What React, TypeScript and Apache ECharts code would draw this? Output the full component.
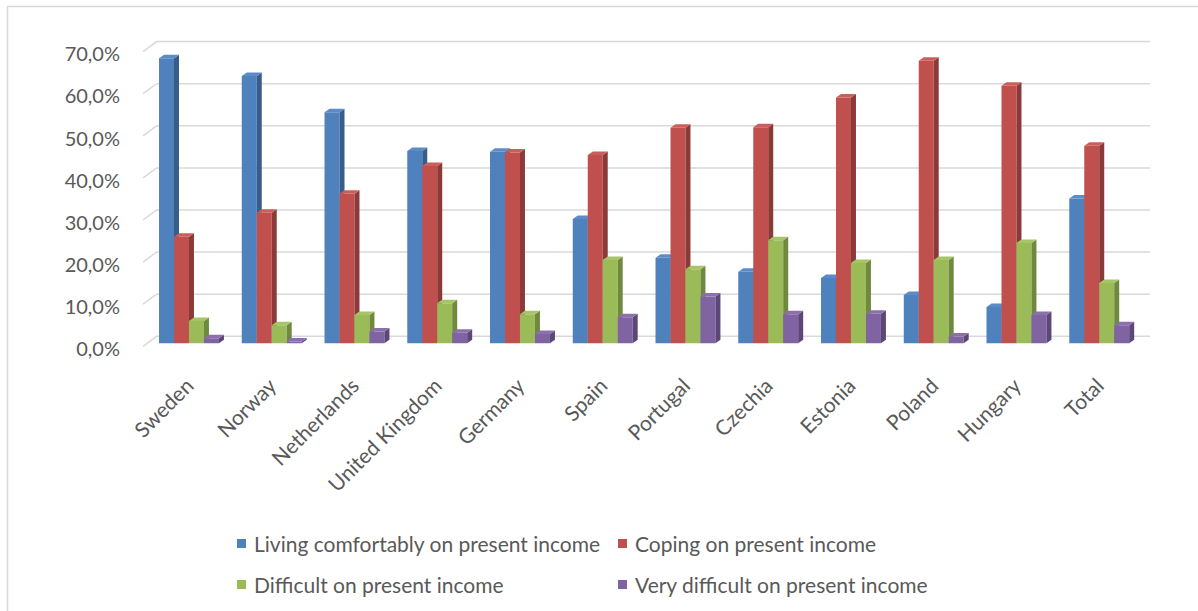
import React, { useEffect, useRef } from "react";
import * as echarts from "echarts";

const categories = ["Sweden", "Norway", "Netherlands", "United Kingdom", "Germany", "Spain", "Portugal", "Czechia", "Estonia", "Poland", "Hungary", "Total"];
const seriesNames = [
  "Living comfortably on present income",
  "Coping on present income",
  "Difficult on present income",
  "Very difficult on present income",
];
const livingComfortably = [67.7, 63.5, 54.9, 45.7, 45.5, 29.5, 20.3, 17.0, 15.5, 11.5, 8.6, 34.4];
const coping = [25.3, 31.0, 35.5, 42.1, 45.3, 44.7, 51.2, 51.3, 58.4, 67.1, 61.2, 46.9];
const difficult = [5.3, 4.3, 6.7, 9.5, 6.9, 19.8, 17.6, 24.5, 19.1, 19.8, 23.8, 14.3];
const veryDifficult = [1.2, 0.4, 2.8, 2.5, 2.2, 6.2, 11.1, 6.9, 7.0, 1.6, 6.7, 4.3];
const yTicks = [0, 10, 20, 30, 40, 50, 60, 70];
const yTickLabels = ["0,0%", "10,0%", "20,0%", "30,0%", "40,0%", "50,0%", "60,0%", "70,0%"];

const frontColors = ["#4F81BD", "#C0504D", "#9BBB59", "#8064A2"];
const sideColors = ["#385D8A", "#8C3A38", "#6F8A3F", "#5C4777"];
const topColors = ["#5B8CC8", "#CB5E5B", "#A6C567", "#8B70AD"];

const FONT = "Lato, 'Open Sans', sans-serif";
const GRAY = "#595959";

export default function App() {
  const ref = useRef<HTMLDivElement>(null);
  useEffect(() => {
    if (!ref.current) return;
    const chart = echarts.init(ref.current, undefined, { renderer: "svg" });
    const allValues = [livingComfortably, coping, difficult, veryDifficult];
    const DX = 5;
    const DY = -3.5;

    const barSeries = allValues.map((vals, si) => ({
      type: "custom",
      name: seriesNames[si],
      xAxisIndex: 0,
      yAxisIndex: 0,
      z: 3,
      itemStyle: { color: frontColors[si] },
      data: vals.map((v, i) => [i, v]),
      encode: { x: 0, y: 1 },
      renderItem: (params: any, api: any) => {
        const ci = api.value(0);
        const v = api.value(1);
        const top = api.coord([ci, v]);
        const base = api.coord([ci, 0])[1];
        const band = api.size([1, 0])[0];
        const w = band * 0.181;
        const x0 = top[0] - 2 * w + si * w;
        const yT = top[1];
        return {
          type: "group",
          children: [
            {
              type: "rect",
              shape: { x: x0, y: yT, width: w, height: base - yT },
              style: { fill: frontColors[si] },
            },
            {
              type: "polygon",
              shape: {
                points: [
                  [x0 + w, yT],
                  [x0 + w + DX, yT + DY],
                  [x0 + w + DX, base + DY],
                  [x0 + w, base],
                ],
              },
              style: { fill: sideColors[si] },
            },
            {
              type: "polygon",
              shape: {
                points: [
                  [x0, yT],
                  [x0 + DX, yT + DY],
                  [x0 + w + DX, yT + DY],
                  [x0 + w, yT],
                ],
              },
              style: { fill: topColors[si] },
            },
          ],
        };
      },
    }));

    const gridSeries = {
      type: "custom",
      xAxisIndex: 0,
      yAxisIndex: 0,
      z: 1,
      silent: true,
      data: yTicks.map((t) => [0, t]),
      encode: { x: 0, y: 1 },
      renderItem: (params: any, api: any) => {
        const cs = params.coordSys;
        const y = api.coord([0, api.value(1)])[1] - 7;
        return {
          type: "polyline",
          shape: {
            points: [
              [cs.x - 4.5, y + 10],
              [cs.x + 9, y],
              [cs.x + cs.width + 9.5, y],
            ],
          },
          style: { stroke: "#D9D9D9", lineWidth: 1.5, fill: "none" },
        };
      },
    };

    const legendBase = {
      orient: "vertical",
      top: 533,
      padding: 0,
      itemWidth: 9,
      itemHeight: 9,
      itemGap: 20,
      icon: "rect",
      selectedMode: false,
      textStyle: { fontFamily: FONT, fontSize: 21, color: GRAY, padding: [0, 0, 0, 3] },
    };

    chart.setOption({
      animation: false,
      backgroundColor: "#ffffff",
      grid: [
        { left: 147.6, top: 48.6, width: 993, height: 294.7 },
        { left: 128, top: 53.3, width: 10, height: 294.7 },
      ],
      xAxis: [
        {
          type: "category",
          gridIndex: 0,
          data: categories,
          axisLine: { show: false },
          axisTick: { show: false },
          axisLabel: {
            rotate: 45,
            margin: 38,
            interval: 0,
            fontFamily: FONT,
            fontSize: 21,
            color: GRAY,
          },
        },
        { type: "category", gridIndex: 1, data: ["a"], show: false },
      ],
      yAxis: [
        {
          type: "value",
          gridIndex: 0,
          min: 0,
          max: 70,
          interval: 10,
          axisLabel: { show: false },
          axisLine: { show: false },
          axisTick: { show: false },
          splitLine: { show: false },
        },
        {
          type: "value",
          gridIndex: 1,
          min: 0,
          max: 70,
          interval: 10,
          axisLine: { show: false },
          axisTick: { show: false },
          splitLine: { show: false },
          axisLabel: {
            margin: 8,
            fontFamily: FONT,
            fontSize: 20,
            color: GRAY,
            formatter: (v: number) => yTickLabels[yTicks.indexOf(v)] ?? "",
          },
        },
      ],
      legend: [
        { ...legendBase, data: [seriesNames[0], seriesNames[2]], left: 237 },
        { ...legendBase, data: [seriesNames[1], seriesNames[3]], left: 618 },
      ],
      graphic: [
        {
          type: "line",
          shape: { x1: 7, y1: 6.5, x2: 1198, y2: 6.5 },
          style: { stroke: "#D9D9D9", lineWidth: 1.5 },
        },
        {
          type: "line",
          shape: { x1: 7.5, y1: 6, x2: 7.5, y2: 611 },
          style: { stroke: "#D9D9D9", lineWidth: 1.5 },
        },
      ],
      series: [gridSeries, ...barSeries],
    });
    return () => chart.dispose();
  }, []);
  return (
    <div
      ref={ref}
      style={{ position: "absolute", left: 0, top: 0, width: 1198, height: 611 }}
    />
  );
}
